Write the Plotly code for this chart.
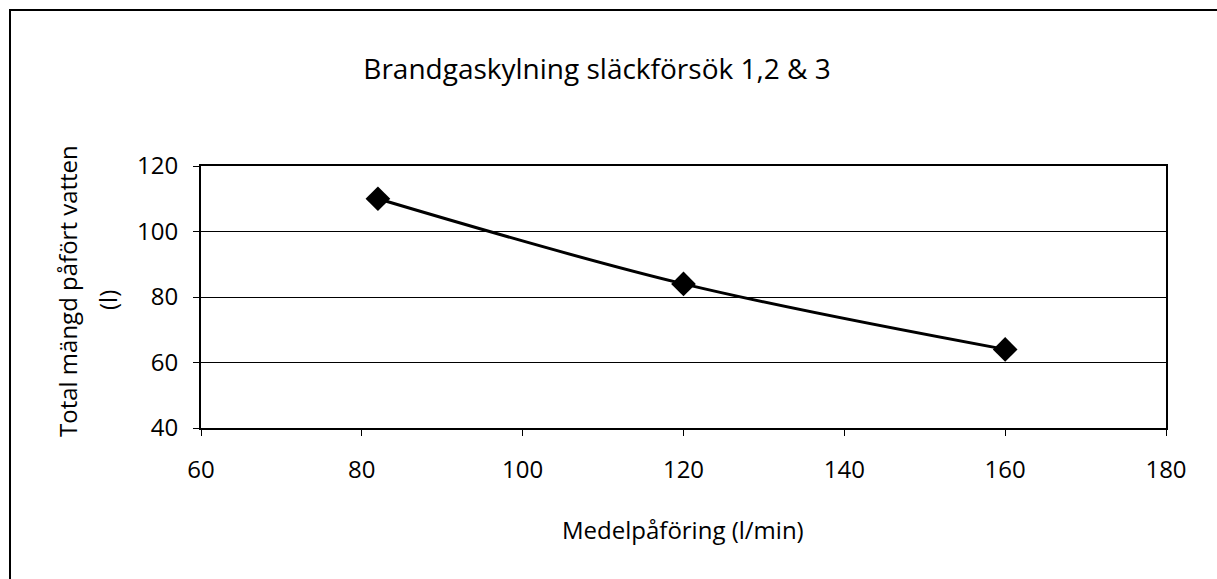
import plotly.graph_objects as go

# Data
flow_rate = [82, 120, 160]          # Medelpåföring (l/min)
water_total = [110, 84, 64]         # Total mängd påfört vatten (l)
x_tick_vals = [60, 80, 100, 120, 140, 160, 180]
y_tick_vals = [40, 60, 80, 100, 120]

title_text = "Brandgaskylning släckförsök 1,2 & 3"
x_title = "Medelpåföring (l/min)"
y_title_line1 = "Total mängd påfört vatten"
y_title_line2 = "(l)"

W, H = 1217, 579
L, R, T, B = 201, 51, 166, 151
pw, ph = W - L - R, H - T - B

FONT = "Open Sans"


def px_to_paper_x(px):
    return (px - L) / pw


def px_to_paper_y(py):
    return (H - B - py) / ph


fig = go.Figure()
fig.add_trace(go.Scatter(
    x=flow_rate, y=water_total,
    mode="lines+markers",
    line=dict(color="black", width=3, shape="spline", smoothing=1),
    marker=dict(symbol="diamond", size=19, color="black"),
    showlegend=False, hoverinfo="x+y",
))

fig.update_layout(
    width=W, height=H,
    margin=dict(l=L, r=R, t=T, b=B, pad=0),
    paper_bgcolor="white", plot_bgcolor="white",
    font=dict(family=FONT, size=24, color="black"),
    title=dict(text=title_text, x=597 / W, xanchor="center", xref="container",
               y=1 - 69 / H, yanchor="middle", yref="container",
               font=dict(family=FONT, size=28, color="black")),
    xaxis=dict(
        range=[60, 180], tickvals=x_tick_vals, ticks="outside", ticklen=6,
        tickwidth=1, tickcolor="black", showgrid=False, zeroline=False,
        showline=True, linecolor="black", linewidth=2, mirror=True,
        tickfont=dict(family=FONT, size=24), ticklabelstandoff=13,
    ),
    yaxis=dict(
        range=[40, 120], tickvals=y_tick_vals, ticks="outside", ticklen=6,
        tickwidth=1, tickcolor="black", showgrid=True, gridcolor="black",
        gridwidth=1, zeroline=False,
        showline=True, linecolor="black", linewidth=2, mirror=True,
        tickfont=dict(family=FONT, size=24), ticklabelstandoff=10,
    ),
)

# Axis titles as text annotations
fig.add_annotation(text=x_title, xref="paper", yref="paper",
                   x=px_to_paper_x(683), y=px_to_paper_y(529),
                   xanchor="center", yanchor="middle", showarrow=False,
                   font=dict(family=FONT, size=24, color="black"))
fig.add_annotation(text=y_title_line1, xref="paper", yref="paper",
                   x=px_to_paper_x(67), y=px_to_paper_y(291),
                   xanchor="center", yanchor="middle", showarrow=False,
                   textangle=-90,
                   font=dict(family=FONT, size=24, color="black"))
fig.add_annotation(text=y_title_line2, xref="paper", yref="paper",
                   x=px_to_paper_x(107), y=px_to_paper_y(300),
                   xanchor="center", yanchor="middle", showarrow=False,
                   textangle=-90,
                   font=dict(family=FONT, size=24, color="black"))

# Outer chart border (chart-area frame, partly cropped at right/bottom)
fig.add_shape(type="rect", xref="paper", yref="paper",
              x0=px_to_paper_x(10), x1=px_to_paper_x(W + 5),
              y0=px_to_paper_y(H + 5), y1=px_to_paper_y(10),
              line=dict(color="black", width=2), fillcolor="rgba(0,0,0,0)",
              layer="above")

fig.write_html("out.html")
